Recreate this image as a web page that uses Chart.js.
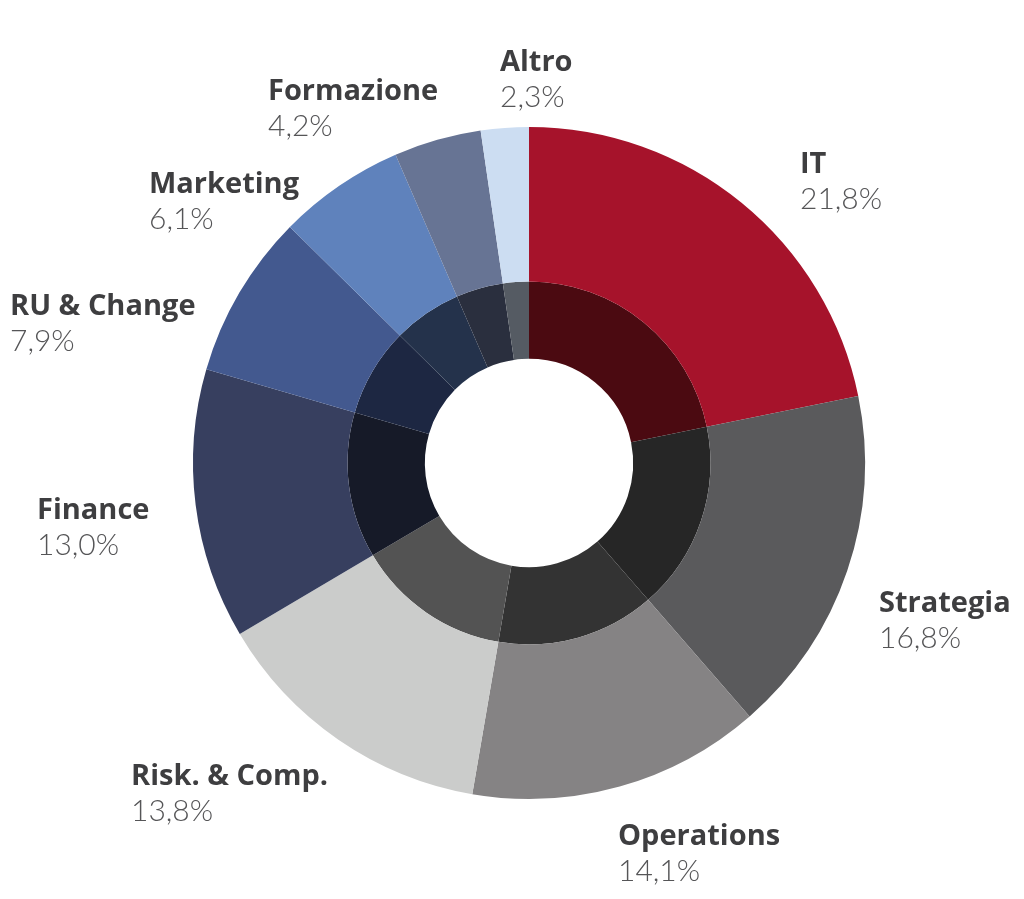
<!DOCTYPE html>
<html>
<head>
<meta charset="utf-8">
<script src="https://cdn.jsdelivr.net/npm/chart.js@4/dist/chart.umd.min.js"></script>
<style>
  html, body { margin: 0; padding: 0; background: #fff; }
  #wrap { width: 1024px; height: 899px; position: relative; }
</style>
</head>
<body>
<div id="wrap"><canvas id="chart" width="1024" height="899"></canvas></div>
<script>
// categories, clockwise from 12 o'clock
const categories = ['IT', 'Strategia', 'Operations', 'Risk. & Comp.', 'Finance', 'RU & Change', 'Marketing', 'Formazione', 'Altro'];
const shares = [21.8, 16.8, 14.1, 13.8, 13.0, 7.9, 6.1, 4.2, 2.3];

const outerColors = ['#A6132B', '#5A5A5C', '#858384', '#CBCCCB', '#373F5F', '#43598F', '#5F82BC', '#677494', '#CCDDF2'];
const innerColors = ['#4B0A11', '#262626', '#333333', '#535353', '#161A28', '#1D2742', '#24324B', '#2A2F3E', '#555B63'];

// where each label block sits (left x, baseline of the name)
const labelSpots = {
  'IT': [800, 173],
  'Strategia': [879, 612],
  'Operations': [618, 845],
  'Risk. & Comp.': [131, 785],
  'Finance': [37, 519],
  'RU & Change': [10, 315],
  'Marketing': [149, 193],
  'Formazione': [268, 100],
  'Altro': [500, 71]
};

function fmt(v) {
  return v.toFixed(1).replace('.', ',') + '%';
}

const labelPlugin = {
  id: 'sliceLabels',
  afterDraw(chart) {
    const ctx = chart.ctx;
    ctx.save();
    ctx.textAlign = 'left';
    ctx.textBaseline = 'alphabetic';
    categories.forEach((name, i) => {
      const p = labelSpots[name];
      ctx.fillStyle = '#3E3E40';
      ctx.font = 'bold 29px "Open Sans"';
      ctx.fillText(name, p[0], p[1]);
      ctx.fillStyle = '#555557';
      ctx.font = '300 30px Lato';
      ctx.fillText(fmt(shares[i]), p[0], p[1] + 36);
    });
    ctx.restore();
  }
};

new Chart(document.getElementById('chart'), {
  type: 'doughnut',
  data: {
    labels: categories,
    datasets: [
      { data: shares, backgroundColor: outerColors, borderWidth: 0, weight: 2 },
      { data: shares, backgroundColor: innerColors, borderWidth: 0, weight: 1 }
    ]
  },
  options: {
    responsive: false,
    animation: false,
    cutout: '31%',
    layout: { padding: { top: 127, bottom: 100, left: 193, right: 159 } },
    plugins: {
      legend: { display: false },
      tooltip: { enabled: false }
    }
  },
  plugins: [labelPlugin]
});
</script>
</body>
</html>
